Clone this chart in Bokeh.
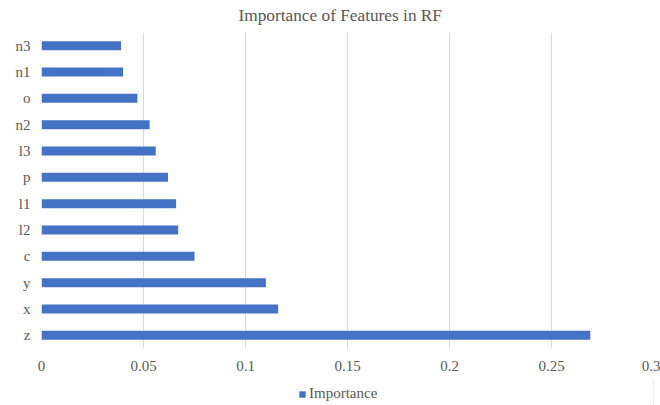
from bokeh.plotting import figure
from bokeh.models import FactorRange, Range1d, Legend, LegendItem, FixedTicker, ColumnDataSource
from bokeh.layouts import column
from bokeh.embed import file_html
from bokeh.resources import INLINE

features = ["z", "x", "y", "c", "l2", "l1", "p", "l3", "n2", "o", "n1", "n3"]
importance = [0.269, 0.116, 0.110, 0.075, 0.067, 0.066, 0.062, 0.056, 0.053, 0.047, 0.040, 0.039]
x_ticks = [0, 0.05, 0.1, 0.15, 0.2, 0.25, 0.3]
x_tick_labels = ["0", "0.05", "0.1", "0.15", "0.2", "0.25", "0.3"]

FONT = "Liberation Serif"
TXT = "#595959"
BAR = "#4472C4"
GRID = "#D9D9D9"

src = ColumnDataSource(dict(feature=features, importance=importance))

p = figure(width=660, height=380, output_backend="svg", toolbar_location=None,
           y_range=FactorRange(factors=features, range_padding=0),
           x_range=Range1d(0, 0.3),
           min_border_left=41, min_border_right=7, min_border_top=31, min_border_bottom=32)

r = p.hbar(y="feature", right="importance", left=0, height=0.34, source=src,
           fill_color=BAR, line_color=None)

p.title.text = "Importance of Features in RF"
p.title.align = "left"
p.title.offset = 197
p.title.vertical_align = "top"
p.title.standoff = 11
p.title.text_font = FONT
p.title.text_font_size = "17.3px"
p.title.text_font_style = "normal"
p.title.text_color = TXT

p.outline_line_color = None
p.background_fill_color = "white"
p.border_fill_color = "white"

xa = p.xaxis[0]
xa.ticker = FixedTicker(ticks=x_ticks)
xa.major_label_overrides = {t: l for t, l in zip(x_ticks, x_tick_labels)}
xa.axis_line_color = None
xa.major_tick_line_color = None
xa.major_tick_out = 0
xa.minor_tick_line_color = None
xa.major_label_text_font = FONT
xa.major_label_text_font_size = "15px"
xa.major_label_text_color = TXT
xa.major_label_standoff = 12

ya = p.yaxis[0]
ya.axis_line_color = None
ya.major_tick_line_color = None
ya.major_tick_out = 0
ya.minor_tick_line_color = None
ya.major_label_text_font = FONT
ya.major_label_text_font_size = "15px"
ya.major_label_text_color = TXT
ya.major_label_standoff = 11

p.xgrid.ticker = FixedTicker(ticks=x_ticks)
p.xgrid.grid_line_color = GRID
p.ygrid.grid_line_color = None

# legend strip below the chart (its bars fall outside its visible range)
lg = figure(width=660, height=25, output_backend="svg", toolbar_location=None,
            y_range=FactorRange(factors=features), x_range=Range1d(-2, -1),
            x_axis_location=None, y_axis_location=None, min_border=0)
lr = lg.hbar(y="feature", right="importance", left=0, height=0.34, source=src,
             fill_color=BAR, line_color=None)
lg.grid.visible = False
lg.outline_line_color = None
lg.border_fill_color = None
lg.background_fill_color = None

legend = Legend(items=[LegendItem(label="Importance", renderers=[lr])],
                orientation="horizontal", location=(257, 3),
                border_line_color=None, background_fill_alpha=0,
                label_text_font=FONT, label_text_font_size="15px", label_text_color=TXT,
                glyph_width=8, glyph_height=8, label_standoff=3, label_height=16,
                padding=2, margin=0, spacing=0)
lg.add_layout(legend)

layout = column(p, lg, spacing=0)
open("out.html", "w").write(file_html(layout, INLINE))
